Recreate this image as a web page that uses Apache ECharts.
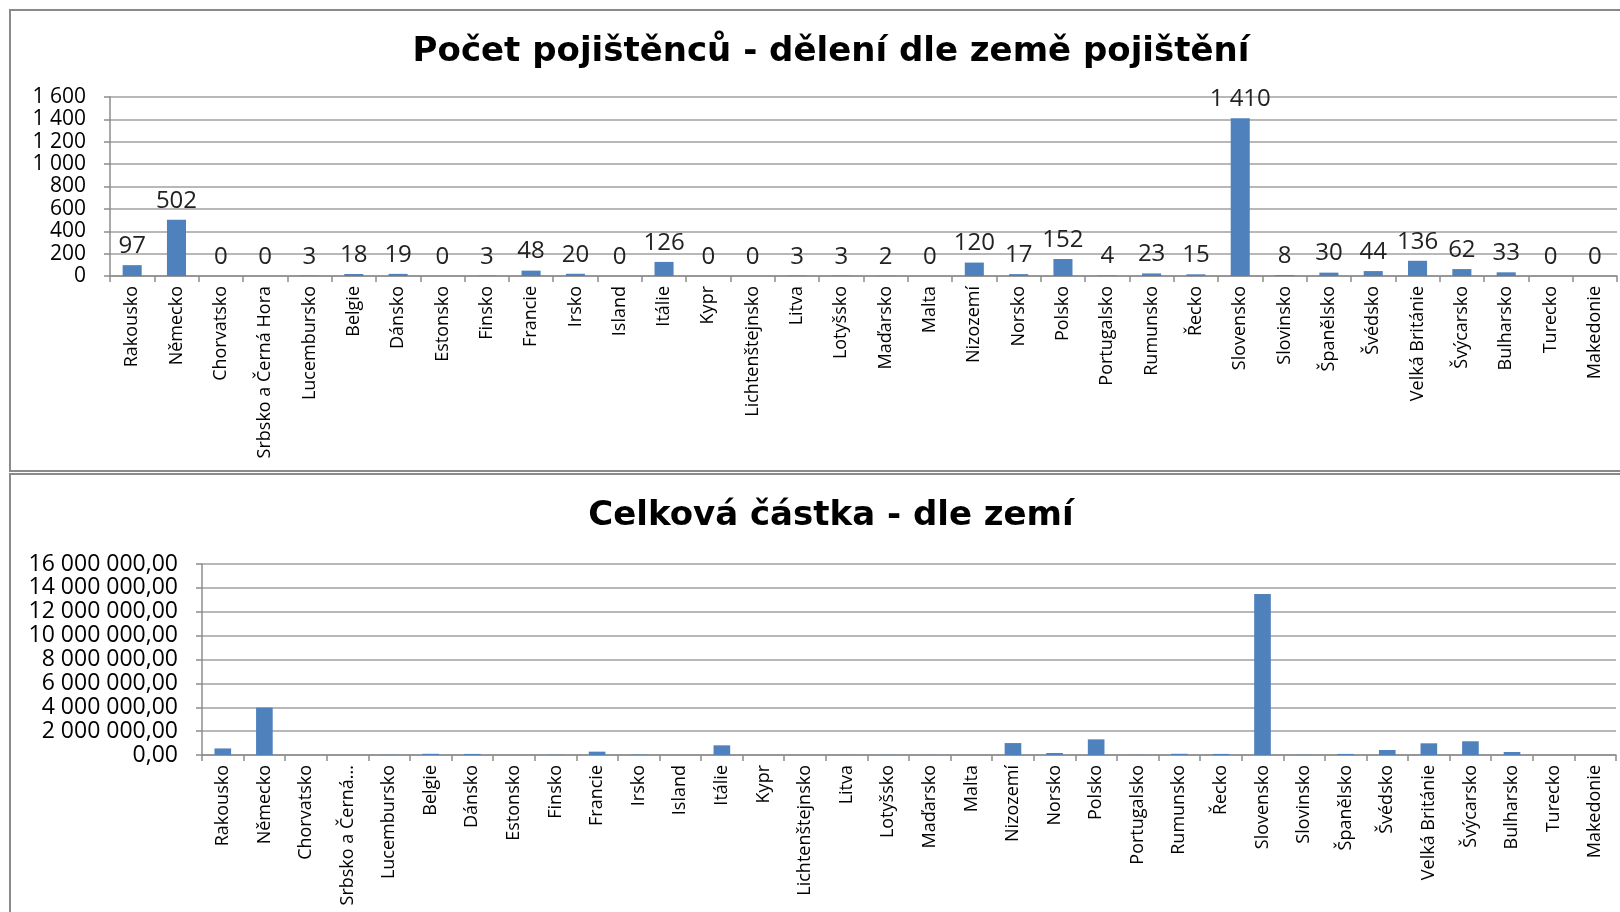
<!DOCTYPE html>
<html>
<head>
<meta charset="utf-8">
<script src="https://cdn.jsdelivr.net/npm/echarts@6/dist/echarts.min.js"></script>
<style>
  html, body { margin: 0; padding: 0; background: #fff; }
  #chart { width: 1620px; height: 912px; }
</style>
</head>
<body>
<div id="chart"></div>
<script>
// zeme (kategorie)
const categories = [
  "Rakousko", "Německo", "Chorvatsko", "Srbsko a Černá Hora", "Lucembursko",
  "Belgie", "Dánsko", "Estonsko", "Finsko", "Francie", "Irsko", "Island",
  "Itálie", "Kypr", "Lichtenštejnsko", "Litva", "Lotyšsko", "Maďarsko", "Malta",
  "Nizozemí", "Norsko", "Polsko", "Portugalsko", "Rumunsko", "Řecko",
  "Slovensko", "Slovinsko", "Španělsko", "Švédsko", "Velká Británie",
  "Švýcarsko", "Bulharsko", "Turecko", "Makedonie"
];
// pocet pojistencu
const insuredCounts = [
  97, 502, 0, 0, 3, 18, 19, 0, 3, 48, 20, 0, 126, 0, 0, 3, 3, 2, 0,
  120, 17, 152, 4, 23, 15, 1410, 8, 30, 44, 136, 62, 33, 0, 0
];
// celkova castka (odhad z grafu)
const totalAmounts = [
  550000, 3970000, 0, 0, 15000, 100000, 90000, 0, 15000, 280000, 25000, 0,
  810000, 0, 0, 10000, 10000, 10000, 0, 1000000, 170000, 1310000, 15000,
  100000, 90000, 13480000, 15000, 90000, 420000, 980000, 1150000, 250000, 0, 0
];
// osy
const countTicks = [0, 200, 400, 600, 800, 1000, 1200, 1400, 1600];
const amountTicks = [0, 2000000, 4000000, 6000000, 8000000, 10000000, 12000000, 14000000, 16000000];

const FONT = "Open Sans";
const BAR = "#4f81bd";

//tisice oddelene mezerou
const spaced = n => String(Math.round(n)).replace(/\B(?=(\d{3})+(?!\d))/g, " ");
const shortName = s => (s.length > 15 ? s.slice(0, 14) + "..." : s);

const catAxis = (gridIndex, fmt) => ({
  type: "category",
  gridIndex,
  data: categories,
  axisLine: { lineStyle: { color: "#8c8c8c", width: 1.5 } },
  axisTick: { show: true, length: 6, lineStyle: { color: "#8c8c8c", width: 1.5 } },
  axisLabel: {
    rotate: 90,
    interval: 0,
    margin: 10,
    fontFamily: FONT,
    fontSize: 18,
    color: "#000",
    formatter: fmt
  }
});

const valAxis = (gridIndex, ticks, fontSize, fmt) => ({
  type: "value",
  gridIndex,
  min: ticks[0],
  max: ticks[ticks.length - 1],
  interval: ticks[1] - ticks[0],
  axisLine: { show: true, lineStyle: { color: "#8c8c8c", width: 1.5 } },
  axisTick: { show: true, length: 6, lineStyle: { color: "#8c8c8c", width: 1.5 } },
  splitLine: { show: true, showMinLine: true, showMaxLine: true, lineStyle: { color: "#b8b8b8", width: 2 } },
  axisLabel: {
    fontFamily: FONT, fontSize, color: "#000", margin: 24,
    showMinLabel: true, showMaxLabel: true, hideOverlap: false,
    formatter: fmt
  }
});

const titleStyle = { fontFamily: "DejaVu Sans", fontWeight: "bold", fontSize: 34, color: "#000" };

const chart = echarts.init(document.getElementById("chart"), null, { renderer: "canvas" });

chart.setOption({
  animation: false,
  backgroundColor: "#fff",
  graphic: [
    { type: "rect", shape: { x: 10, y: 10, width: 1640, height: 461 },
      style: { fill: "none", stroke: "#8a8a8a", lineWidth: 2 } },
    { type: "rect", shape: { x: 10, y: 474, width: 1640, height: 500 },
      style: { fill: "none", stroke: "#8a8a8a", lineWidth: 2 } }
  ],
  title: [
    { text: "Počet pojištěnců - dělení dle země pojištění", left: 826, top: 30, textAlign: "center",
      textStyle: titleStyle },
    { text: "Celková částka - dle zemí", left: 826, top: 494, textAlign: "center",
      textStyle: titleStyle }
  ],
  grid: [
    { left: 110, right: 3, top: 97, height: 179 },
    { left: 202, right: 4, top: 564, height: 191 }
  ],
  xAxis: [catAxis(0), catAxis(1, shortName)],
  yAxis: [
    valAxis(0, countTicks, 21, v => spaced(v)),
    valAxis(1, amountTicks, 23, v => spaced(v) + ",00")
  ],
  series: [
    {
      type: "bar",
      xAxisIndex: 0,
      yAxisIndex: 0,
      data: insuredCounts,
      barWidth: "43%",
      itemStyle: { color: BAR },
      label: {
        show: true,
        position: "top",
        distance: 7,
        fontFamily: FONT,
        fontSize: 24,
        color: "#222",
        formatter: p => spaced(p.value)
      }
    },
    {
      type: "bar",
      xAxisIndex: 1,
      yAxisIndex: 1,
      data: totalAmounts,
      barWidth: "40%",
      itemStyle: { color: BAR }
    }
  ]
});
</script>
</body>
</html>
